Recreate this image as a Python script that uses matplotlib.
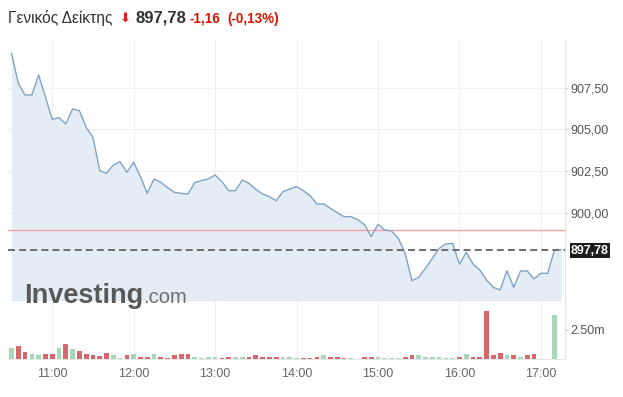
import numpy as np
import pandas as pd
import matplotlib
matplotlib.use("Agg")
import matplotlib.pyplot as plt

plt.rcParams['font.family'] = ['Liberation Sans', 'DejaVu Sans']
plt.rcParams['lines.scale_dashes'] = False

#  data (5 minute bars)
times = pd.date_range("2020-01-01 10:30", "2020-01-01 17:15", freq="5min")

prices = [909.56, 907.76, 907.06, 907.06, 908.26, 906.94, 905.60, 905.70, 905.32, 906.22,
          906.12, 905.12, 904.52, 902.52, 902.36, 902.86, 903.06, 902.42, 903.02, 902.16,
          901.16, 902.02, 901.82, 901.50, 901.22, 901.16, 901.12, 901.80, 901.93, 902.02,
          902.26, 901.86, 901.32, 901.32, 901.96, 901.76, 901.40, 901.12, 900.96, 900.72,
          901.26, 901.42, 901.56, 901.32, 901.02, 900.52, 900.52, 900.26, 900.00, 899.76,
          899.76, 899.59, 899.29, 898.56, 899.30, 898.96, 898.90, 898.46, 897.56, 895.92,
          896.12, 896.66, 897.26, 897.86, 898.12, 898.16, 896.90, 897.62, 896.92, 896.56,
          895.96, 895.52, 895.36, 896.52, 895.52, 896.50, 896.50, 896.02, 896.36, 896.36,
          897.76, 897.78]

volumes = [0.99, 1.13, 0.60, 0.43, 0.37, 0.43, 0.43, 0.99, 1.28, 0.90,
           0.68, 0.43, 0.34, 0.28, 0.51, 0.34, 0.09, 0.37, 0.43, 0.17,
           0.17, 0.43, 0.17, 0.09, 0.34, 0.43, 0.43, 0.20, 0.09, 0.20,
           0.20, 0.09, 0.17, 0.20, 0.20, 0.17, 0.34, 0.17, 0.17, 0.17,
           0.20, 0.20, 0.09, 0.09, 0.09, 0.17, 0.37, 0.17, 0.17, 0.09,
           0.09, 0.05, 0.17, 0.17, 0.17, 0.09, 0.09, 0.09, 0.17, 0.37,
           0.34, 0.23, 0.17, 0.17, 0.09, 0.09, 0.17, 0.43, 0.17, 0.17,
           4.12, 0.34, 0.51, 0.34, 0.34, 0.23, 0.34, 0.43, 0.0, 0.0,
           3.78, 0.0]

# g = up bar, r = down bar
vol_dir = list("grrggrrgrg" "rrrrrggrgr" "rgrrrrrggg" "grrggrrrrr" "gggrrrgrrr"
               "ggrrggggrr" "ggggggrgrr" "rrrgrgrrgg" "gg")

price_ticks = [900.0, 902.5, 905.0, 907.5]
price_labels = ["900,00", "902,50", "905,00", "907,50"]
vol_ticks = [2.5]
vol_labels = ["2.50m"]
hour_ticks = [11, 12, 13, 14, 15, 16, 17]
hour_labels = ["11:00", "12:00", "13:00", "14:00", "15:00", "16:00", "17:00"]

prev_close = 898.94
last_price = 897.78

W, H = 623, 397
fig = plt.figure(figsize=(W / 100, H / 100), dpi=100)


def px_box(l, t, r, b):
    return [l / W, 1 - b / H, (r - l) / W, (b - t) / H]


ax = fig.add_axes(px_box(8, 40, 565, 301))
axv = fig.add_axes(px_box(8, 301, 565, 359.3), sharex=ax)

x = np.asarray(times.hour + times.minute / 60.0)

# price panel
ax.set_xlim(10.457, 17.296)
ax.set_ylim(894.70, 910.36)
ax.fill_between(x, prices, 894.70, color='#e4edf6', lw=0, zorder=1)
ax.plot(x, prices, color='#7fa3c4', lw=1.0, zorder=3)
ax.axhline(prev_close, color='#f3a3a3', lw=1.0, zorder=2)
ax.axhline(last_price, color='#6e6e6e', lw=1.4, dashes=(5, 3), zorder=4)

ax.yaxis.tick_right()
ax.set_yticks(price_ticks)
ax.set_yticklabels(price_labels)
ax.tick_params(axis='y', length=2.5, color='#cccccc', labelsize=9,
               labelcolor='#555555', pad=1.5)
ax.tick_params(axis='x', bottom=False, labelbottom=False)
ax.grid(color='#efefef', lw=0.8)
ax.set_axisbelow(True)
for s in ['top', 'left']:
    ax.spines[s].set_visible(False)
ax.spines['right'].set_color('#e2e2e2')
ax.spines['bottom'].set_color('#bdbdbd')

# volume panel
bar_cols = ['#a6d7b9' if d == 'g' else '#d6686d' for d in vol_dir]
axv.bar(x, volumes, width=0.058, color=bar_cols, zorder=3)
axv.set_ylim(0, 4.97)
axv.yaxis.tick_right()
axv.set_yticks(vol_ticks)
axv.set_yticklabels(vol_labels)
axv.set_xticks(hour_ticks)
axv.set_xticklabels(hour_labels)
axv.tick_params(axis='y', length=2.5, color='#cccccc', labelsize=9,
                labelcolor='#555555', pad=1.5)
axv.tick_params(axis='x', length=0, labelsize=9, labelcolor='#666666', pad=6)
axv.grid(axis='x', color='#efefef', lw=0.8)
for s in ['top', 'left']:
    axv.spines[s].set_visible(False)
axv.spines['right'].set_color('#e2e2e2')
axv.spines['bottom'].set_color('#e6e6e6')

# last price tag
fig.text(590 / W, 1 - 250.5 / H, "897,78", ha='center', va='center', color='white',
         weight='bold', fontsize=9,
         bbox=dict(boxstyle='square,pad=0.12', fc='#1c1c1c', ec='none'))

# header
base = 1 - 22.5 / H
fig.text(8 / W, base, "Γενικός Δείκτης", fontsize=11.2, color='#333333', va='baseline')
fig.text(125.5 / W, base + 0.5 / H, "⬇", fontsize=9.5, color='#e0201b', va='baseline',
         ha='center', family='DejaVu Sans')
fig.text(135 / W, base, "897,78", fontsize=12, color='#333333', va='baseline', weight='bold')
fig.text(190 / W, base, "-1,16", fontsize=9.75, color='#d91400', va='baseline', weight='bold')
fig.text(227.5 / W, base, "(-0,13%)", fontsize=9.75, color='#d91400', va='baseline',
         weight='bold')

# watermark
fig.text(24 / W, 1 - 303 / H, "Investing", fontsize=19.5, color='#58595b', weight='bold',
         va='baseline')
fig.text(143 / W, 1 - 303 / H, ".com", fontsize=14.5, color='#6d6e70', va='baseline')

fig.savefig("out.png", dpi=100)
